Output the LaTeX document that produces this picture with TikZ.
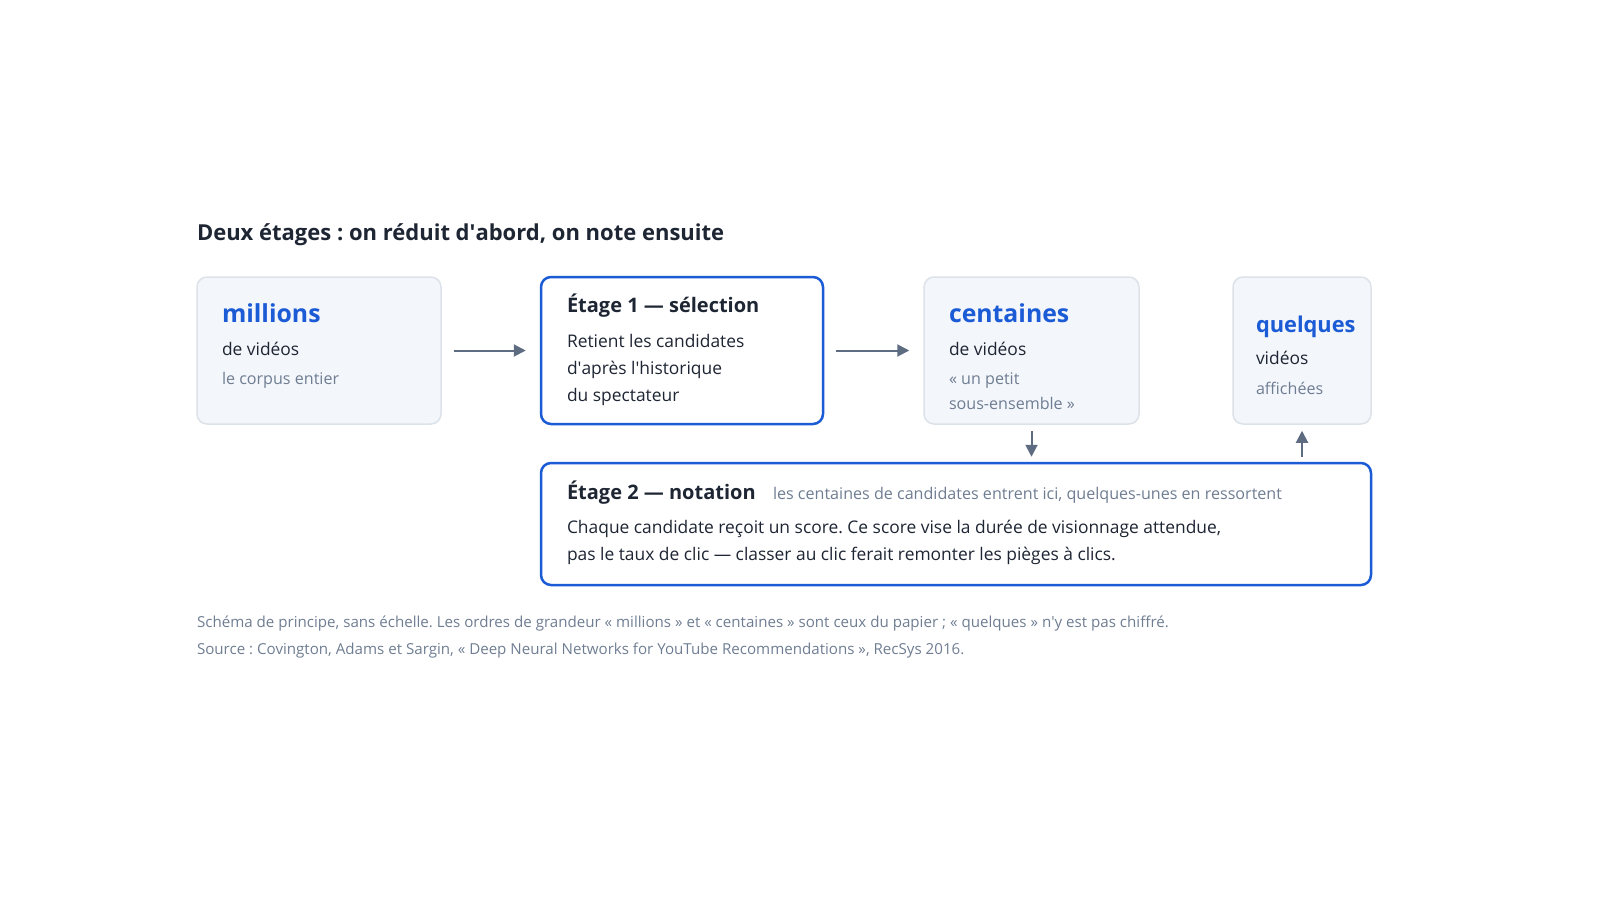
\documentclass[tikz,border=0pt]{standalone}
\usepackage{fontspec}
\setmainfont{Open Sans}
\usetikzlibrary{arrows.meta}
\definecolor{accent}{HTML}{1C5BD6}
\definecolor{ink}{HTML}{1E2533}
\definecolor{muted}{HTML}{6F7D92}
\definecolor{panel}{HTML}{F3F6FB}
\definecolor{edge}{HTML}{DCE2EA}
\definecolor{arrowc}{HTML}{5E6C82}
\newcommand{\ap}{\textquotesingle}
\frenchspacing
\begin{document}
\begin{tikzpicture}[x = 0.5pt, y = -0.5pt, line width = 1pt,
                        stat/.style = {draw = edge, fill = panel, rounded corners = 5pt, line width = 0.75pt, inner sep = 0},
                        stage/.style = {draw = accent, fill = white, rounded corners = 5pt, line width = 1.25pt, inner sep = 0},
                        txt/.style = {anchor = base west, inner sep = 0, align = left},
                        big/.style = {txt, text = accent, font = \bfseries\fontsize{12.4}{15}\selectfont},
                        head/.style = {txt, text = ink, font = \bfseries\fontsize{10}{12}\selectfont},
                        body/.style = {txt, text = ink, font = \fontsize{8.7}{13.5}\selectfont},
                        note/.style = {txt, text = muted, font = \fontsize{8.05}{12.5}\selectfont},
                        flow/.style = {draw = arrowc, line width = 1pt, -{Triangle[length = 6pt, width = 6pt]}}]
      \useasboundingbox (0, 0) rectangle (1600, 900);
      % title
      \node [txt, text = ink, font = \bfseries\fontsize{11}{13}\selectfont] (title) at (196, 240){Deux étages : on réduit d\ap abord, on note ensuite};
      % boxes
      \node [stat, minimum width = 122pt, minimum height = 73.5pt] (mill) at (319, 350.5){};
      \node [stage, minimum width = 141pt, minimum height = 73.5pt] (sel) at (682, 350.5){};
      \node [stat, minimum width = 107.5pt, minimum height = 73.5pt] (cent) at (1031.5, 350.5){};
      \node [stat, minimum width = 69pt, minimum height = 73.5pt] (quel) at (1302, 350.5){};
      \node [stage, minimum width = 415pt, minimum height = 61pt] (note) at (956, 524){};
      % texts
      \node [big] (millt) at (221, 322){millions};
      \node [body] (milld) at (221, 355){de vidéos};
      \node [note] (milln) at (221, 384){le corpus entier};
      \node [head] (selt) at (566, 312){Étage 1 — sélection};
      \node [body] (seld) at (566, 401){Retient les candidates\\d\ap après l\ap historique\\du spectateur};
      \node [big] (centt) at (948, 322){centaines};
      \node [body] (centd) at (948, 355){de vidéos};
      \node [note] (centn) at (948, 409){« un petit\\sous-ensemble »};
      \node [big, font = \bfseries\fontsize{10.9}{13}\selectfont] (quelt) at (1255, 332){quelques};
      \node [body] (queld) at (1255, 364){vidéos};
      \node [note] (queln) at (1255, 394){affichées};
      \node [head] (notet) at (566, 499){Étage 2 — notation};
      \node [note] (noten) at (772, 499){les centaines de candidates entrent ici, quelques-unes en ressortent};
      \node [body] (noted) at (566, 560){Chaque candidate reçoit un score. Ce score vise la durée de visionnage attendue,\\pas le taux de clic — classer au clic ferait remonter les pièges à clics.};
      % connectors
      \draw [flow, shorten <= 6pt, shorten >= 7pt] (mill) -- (sel);
      \draw [flow, shorten <= 6pt, shorten >= 7pt] (sel) -- (cent);
      \draw [flow, shorten <= 3pt, shorten >= 2.5pt] (cent.south) -- (cent.south |- note.north);
      \draw [flow, shorten <= 2.5pt, shorten >= 3pt] (quel.south |- note.north) -- (quel.south);
      % footnote
      \node [txt, text = muted, font = \fontsize{7.56}{13.5}\selectfont] (foot) at (196, 654){Schéma de principe, sans échelle. Les ordres de grandeur « millions » et « centaines » sont ceux du papier ; « quelques » n\ap y est pas chiffré.\\Source : Covington, Adams et Sargin, « Deep Neural Networks for YouTube Recommendations », RecSys 2016.};
    \end{tikzpicture}
\end{document}
